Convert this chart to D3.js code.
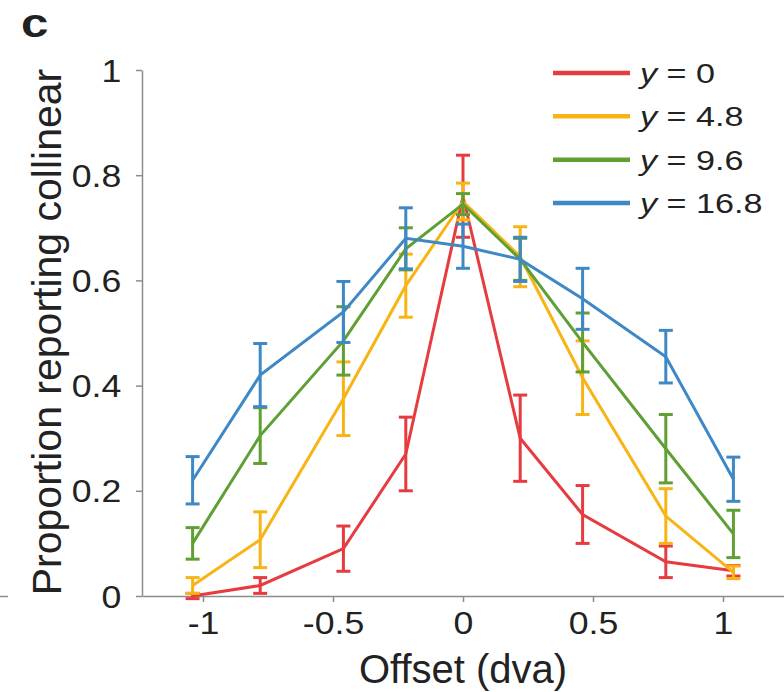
<!DOCTYPE html>
<html>
<head>
<meta charset="utf-8">
<script src="https://cdn.jsdelivr.net/npm/d3@7"></script>
<style>
  html, body { margin: 0; padding: 0; background: #fff; }
  svg { display: block; }
  text { font-family: "Liberation Sans", Arial, Helvetica, sans-serif; fill: #222; }
</style>
</head>
<body>
<svg id="chart" width="784" height="692"></svg>
<script>
// Horizontal offsets of the tested element (dva)
const offsets = [-1.04, -0.78, -0.46, -0.22, 0, 0.22, 0.46, 0.78, 1.04];

// Proportion reporting collinear, one array per vertical eccentricity
const propY0   = [0.00, 0.02, 0.09, 0.27, 0.76, 0.30, 0.155, 0.065, 0.048];
const propY48  = [0.02, 0.107, 0.375, 0.59, 0.75, 0.645, 0.415, 0.152, 0.045];
const propY96  = [0.10, 0.305, 0.485, 0.66, 0.745, 0.64, 0.482, 0.28, 0.118];
const propY168 = [0.22, 0.42, 0.54, 0.68, 0.665, 0.64, 0.565, 0.455, 0.222];

// Half-length of the error bars
const errY0   = [0.005, 0.015, 0.043, 0.07, 0.078, 0.082, 0.055, 0.03, 0.01];
const errY48  = [0.015, 0.053, 0.07, 0.06, 0.035, 0.057, 0.07, 0.052, 0.012];
const errY96  = [0.03, 0.053, 0.065, 0.04, 0.02, 0.04, 0.056, 0.065, 0.045];
const errY168 = [0.045, 0.06, 0.058, 0.058, 0.042, 0.042, 0.058, 0.05, 0.042];

const seriesNames = ["0", "4.8", "9.6", "16.8"];
const xTickValues = [-1, -0.5, 0, 0.5, 1];
const xTickLabels = ["-1", "-0.5", "0", "0.5", "1"];
const yTickValues = [0, 0.2, 0.4, 0.6, 0.8, 1];
const yTickLabels = ["0", "0.2", "0.4", "0.6", "0.8", "1"];

const colors = ["#e63c40", "#f8b414", "#5f9f34", "#3f88c6"];
const series = [
  { name: seriesNames[0], values: propY0,   errs: errY0,   color: colors[0] },
  { name: seriesNames[1], values: propY48,  errs: errY48,  color: colors[1] },
  { name: seriesNames[2], values: propY96,  errs: errY96,  color: colors[2] },
  { name: seriesNames[3], values: propY168, errs: errY168, color: colors[3] }
];

const svg = d3.select("#chart");
const axisColor = "#8c8c8c";

const x = d3.scaleLinear().domain([-1.2346, 1.2346]).range([142, 784]);
const y = d3.scaleLinear().domain([0, 1]).range([596, 70]);

// fragment of the neighbouring panel's baseline
svg.append("line")
  .attr("x1", 0).attr("x2", 8).attr("y1", 596.5).attr("y2", 596.5)
  .attr("stroke", axisColor).attr("stroke-width", 1.5);

// axes
const xAxis = svg.append("g")
  .attr("transform", "translate(0,596)")
  .call(d3.axisBottom(x).tickValues(xTickValues)
    .tickFormat((d, i) => xTickLabels[i]).tickSizeInner(6).tickSizeOuter(0).tickPadding(10));
const yAxis = svg.append("g")
  .attr("transform", "translate(142,0)")
  .call(d3.axisLeft(y).tickValues(yTickValues)
    .tickFormat((d, i) => yTickLabels[i]).tickSizeInner(6).tickSizeOuter(0).tickPadding(12));

[xAxis, yAxis].forEach(g => {
  g.select(".domain").attr("stroke", axisColor).attr("stroke-width", 1.5);
  g.selectAll(".tick line").attr("stroke", axisColor).attr("stroke-width", 1.5);
  g.selectAll(".tick text")
    .attr("font-size", 31)
    .attr("fill", "#222")
    .style("font-family", '"Liberation Sans", Arial, sans-serif');
});
xAxis.selectAll(".tick text").attr("transform", "scale(1.15,1)");
yAxis.selectAll(".tick text").attr("transform", "scale(1.15,1)").attr("dy", "0.36em");

// axis titles
svg.append("text")
  .attr("x", 463).attr("y", 683)
  .attr("text-anchor", "middle")
  .attr("font-size", 40)
  .text("Offset (dva)");
svg.append("text")
  .attr("transform", "translate(61,332) rotate(-90)")
  .attr("text-anchor", "middle")
  .attr("font-size", 41)
  .text("Proportion reporting collinear");

// panel letter
svg.append("text")
  .attr("transform", "translate(21,37) scale(1.2,1)")
  .attr("font-size", 41)
  .attr("font-weight", "bold")
  .text("c");

// data
const line = d3.line().x((d, i) => x(offsets[i])).y(d => y(d));
const capHalf = 7;

series.forEach(s => {
  const g = svg.append("g");
  const pts = s.values.map((v, i) => ({ xv: offsets[i], v: v, e: s.errs[i] }));
  g.append("path")
    .datum(s.values)
    .attr("d", line)
    .attr("fill", "none")
    .attr("stroke", s.color)
    .attr("stroke-width", 3);
  const eb = g.selectAll("g.err").data(pts).enter().append("g").attr("class", "err");
  eb.append("line")
    .attr("x1", d => x(d.xv)).attr("x2", d => x(d.xv))
    .attr("y1", d => y(d.v - d.e)).attr("y2", d => y(d.v + d.e))
    .attr("stroke", s.color).attr("stroke-width", 3);
  eb.append("line")
    .attr("x1", d => x(d.xv) - capHalf).attr("x2", d => x(d.xv) + capHalf)
    .attr("y1", d => y(d.v + d.e)).attr("y2", d => y(d.v + d.e))
    .attr("stroke", s.color).attr("stroke-width", 3);
  eb.append("line")
    .attr("x1", d => x(d.xv) - capHalf).attr("x2", d => x(d.xv) + capHalf)
    .attr("y1", d => y(d.v - d.e)).attr("y2", d => y(d.v - d.e))
    .attr("stroke", s.color).attr("stroke-width", 3);
});

// legend
const legend = svg.append("g");
const legendY = d3.scalePoint().domain(seriesNames).range([73, 203]);
series.forEach(s => {
  const ly = legendY(s.name);
  legend.append("line")
    .attr("x1", 553).attr("x2", 630).attr("y1", ly).attr("y2", ly)
    .attr("stroke", s.color).attr("stroke-width", 4.5);
  const t = legend.append("text")
    .attr("transform", `translate(640,${ly}) scale(1.22,1)`)
    .attr("dy", "0.36em")
    .attr("font-size", 28);
  t.append("tspan").attr("font-style", "italic").text("y");
  t.append("tspan").text(" = " + s.name);
});
</script>
</body>
</html>
